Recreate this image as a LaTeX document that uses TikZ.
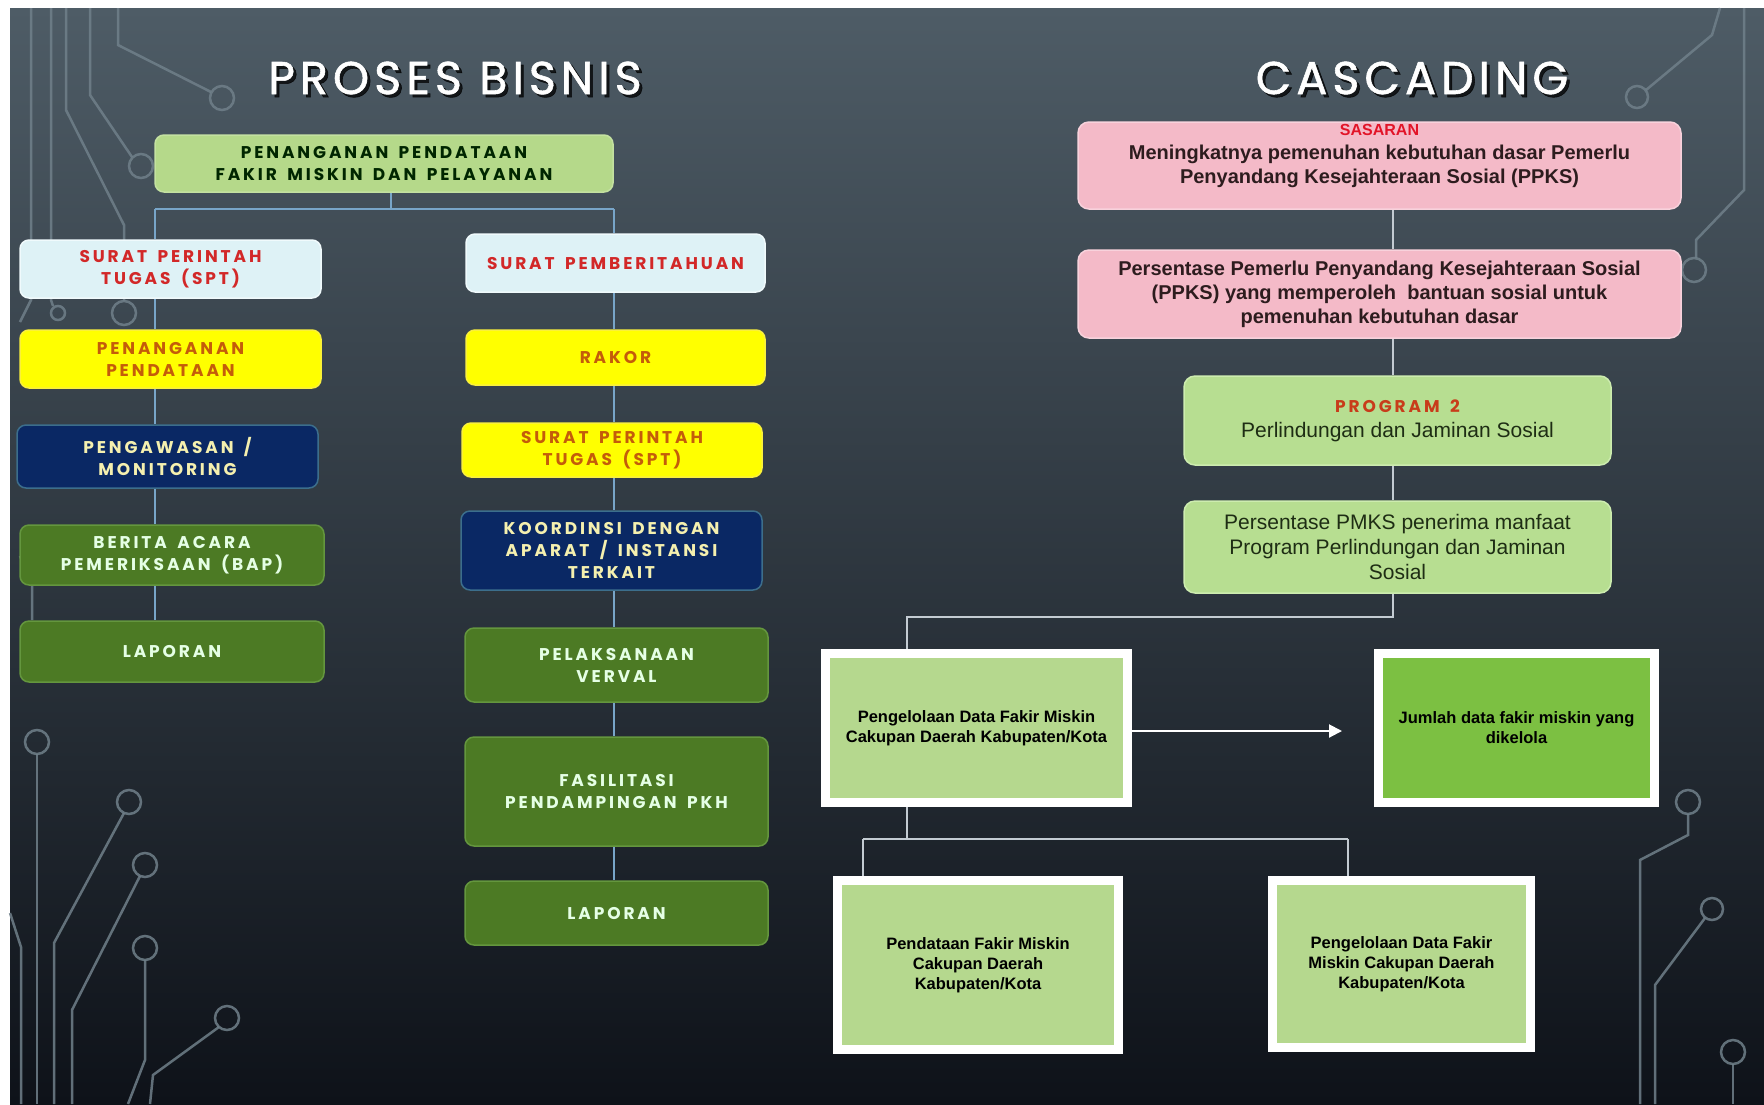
\documentclass[tikz,border=0pt]{standalone}
\usepackage{fontspec}
\setmainfont{Liberation Sans}
\newfontfamily\pop{Poppins}[LetterSpace=11,FakeBold=1.2]
\newfontfamily\popw{Poppins}[LetterSpace=17,WordSpace=1.6]
\usetikzlibrary{arrows.meta}
\definecolor{bgtop}{RGB}{78,92,102}
\definecolor{bgmid}{RGB}{40,48,58}
\definecolor{bgbot}{RGB}{14,18,25}
\definecolor{lline}{RGB}{120,165,200}
\definecolor{rline}{RGB}{195,203,210}
\definecolor{decoc}{RGB}{112,128,138}
\definecolor{topf}{RGB}{181,217,138}
\definecolor{cyanf}{RGB}{222,242,246}
\definecolor{cyand}{RGB}{240,250,252}
\definecolor{redt}{RGB}{210,40,40}
\definecolor{yel}{RGB}{255,255,0}
\definecolor{yeld}{RGB}{250,240,60}
\definecolor{oranget}{RGB}{196,92,10}
\definecolor{navy}{RGB}{10,40,100}
\definecolor{navyd}{RGB}{60,110,140}
\definecolor{navyt}{RGB}{245,240,175}
\definecolor{dgreen}{RGB}{76,122,36}
\definecolor{dgreend}{RGB}{100,150,62}
\definecolor{pinkf}{RGB}{244,186,200}
\definecolor{pinkd}{RGB}{248,210,220}
\definecolor{pinkt}{RGB}{45,28,30}
\definecolor{sasred}{RGB}{226,20,40}
\definecolor{progf}{RGB}{183,222,145}
\definecolor{progd}{RGB}{205,236,175}
\definecolor{progt}{RGB}{30,45,20}
\definecolor{progred}{RGB}{200,60,26}
\definecolor{bgreen}{RGB}{181,216,142}
\definecolor{jmlf}{RGB}{124,192,66}
\pgfdeclarelayer{bg}
\pgfdeclarelayer{lines}
\pgfsetlayers{bg,lines,main}
\begin{document}
\begin{tikzpicture}[x=1pt,y=-1pt,
 lconn/.style={draw=lline, line width=2pt},
 rconn/.style={draw=rline, line width=2pt},
 deco/.style={draw=decoc, line width=2.5pt, opacity=0.85},
 pb/.style={rounded corners=9pt, align=center, inner sep=3pt, line width=1.5pt, font=\popw\bfseries\fontsize{17}{22}\selectfont},
 topb/.style={pb, fill=topf, draw=topf!80!white, text=black!85!green},
 cyanb/.style={pb, fill=cyanf, draw=cyand, text=redt},
 yelb/.style={pb, fill=yel, draw=yeld, text=oranget},
 navyb/.style={pb, fill=navy, draw=navyd, text=navyt},
 grnb/.style={pb, fill=dgreen, draw=dgreend, text=white!90!green},
 pinkb/.style={rounded corners=11pt, fill=pinkf, draw=pinkd, line width=1.5pt, align=center, text=pinkt, font=\bfseries\fontsize{20}{24}\selectfont},
 progb/.style={rounded corners=11pt, fill=progf, draw=progd, line width=1.5pt, align=center, text=progt, font=\fontsize{21}{25}\selectfont},
 wbox/.style={draw=white, line width=9pt, fill=bgreen, align=center, text=black, font=\bfseries\fontsize{16.5}{20}\selectfont},
 ttl/.style={font=\pop\fontsize{46}{50}\selectfont, text=white},
 ttlsh/.style={font=\pop\fontsize{46}{50}\selectfont, text=black, opacity=0.75},
]
\useasboundingbox (0,0) rectangle (1764,1104);
\begin{pgfonlayer}{bg}
\fill[white] (0,0) rectangle (1764,1104);
\shade[top color=bgtop, middle color=bgmid, bottom color=bgbot] (10,8) rectangle (1764,1104);
% left top decorations
\draw[deco] (31,8) -- (31,300) -- (20,322);
\draw[deco] (51,8) -- (51,300) -- (53,306);
\draw[deco] (58,313) circle (7);
\draw[deco] (66,8) -- (66,110) -- (124,225) -- (124,301);
\draw[deco] (124,313) circle (12);
\draw[deco] (90,8) -- (90,95) -- (132,157);
\draw[deco] (141,166) circle (12);
\draw[deco] (118,8) -- (118,45) -- (211,92);
\draw[deco] (222,98) circle (12);
\draw[deco] (20,556) -- (32,585) -- (32,620);
% left bottom decorations
\draw[deco] (37,742) circle (12);
\draw[deco] (37,754) -- (37,1104);
\draw[deco] (129,802) circle (12);
\draw[deco] (124,813) -- (54,943) -- (54,1104);
\draw[deco] (145,865) circle (12);
\draw[deco] (140,876) -- (72,1010) -- (72,1104);
\draw[deco] (145,948) circle (12);
\draw[deco] (145,960) -- (145,1060) -- (128,1104);
\draw[deco] (227,1018) circle (12);
\draw[deco] (219,1027) -- (153,1075) -- (150,1104);
\draw[deco] (10,913) -- (21,947) -- (21,1104);
% right decorations
\draw[deco] (1720,8) -- (1712,35) -- (1646,90);
\draw[deco] (1637,97) circle (11);
\draw[deco] (1744,8) -- (1744,190) -- (1696,240) -- (1696,258);
\draw[deco] (1694,270) circle (12);
\draw[deco] (1688,802) circle (12);
\draw[deco] (1688,814) -- (1688,835) -- (1640,860) -- (1640,1104);
\draw[deco] (1712,909) circle (11);
\draw[deco] (1705,918) -- (1655,985) -- (1655,1104);
\draw[deco] (1733,1052) circle (12);
\draw[deco] (1733,1064) -- (1733,1104);
\end{pgfonlayer}

% titles
\node[ttlsh] (t1s) at (458,81) {PROSES BISNIS};
\node[ttl] (t1) at (455,78) {PROSES BISNIS};
\node[ttlsh] (t2s) at (1415,81) {CASCADING};
\node[ttl] (t2) at (1412,78) {CASCADING};

% left chart
\node[topb, minimum width=458pt, minimum height=57pt] (top) at (384,163.5) {PENANGANAN PENDATAAN\\FAKIR MISKIN DAN PELAYANAN};
\node[cyanb, minimum width=301pt, minimum height=58pt] (spt1) at (170.5,269) {SURAT PERINTAH\\TUGAS (SPT)};
\node[cyanb, minimum width=299pt, minimum height=58pt] (spm) at (615.5,263) {SURAT PEMBERITAHUAN};
\node[yelb, minimum width=301pt, minimum height=58pt] (pp) at (170.5,359) {PENANGANAN\\PENDATAAN};
\node[navyb, minimum width=301pt, minimum height=63pt] (pm) at (167.5,456.5) {PENGAWASAN /\\MONITORING};
\node[grnb, minimum width=304pt, minimum height=60pt] (bap) at (172,555) {BERITA ACARA\\PEMERIKSAAN (BAP)};
\node[grnb, minimum width=304pt, minimum height=61pt] (lap1) at (172,651.5) {LAPORAN};
\node[yelb, minimum width=299pt, minimum height=55pt] (rakor) at (615.5,357.5) {RAKOR};
\node[yelb, minimum width=300pt, minimum height=54pt] (spt2) at (612,450) {SURAT PERINTAH\\TUGAS (SPT)};
\node[navyb, minimum width=301pt, minimum height=79pt] (koord) at (611.5,550.5) {KOORDINSI DENGAN\\APARAT / INSTANSI\\TERKAIT};
\node[grnb, minimum width=303pt, minimum height=74pt] (verval) at (616.5,665) {PELAKSANAAN\\VERVAL};
\node[grnb, minimum width=303pt, minimum height=109pt] (fasil) at (616.5,791.5) {FASILITASI\\PENDAMPINGAN PKH};
\node[grnb, minimum width=303pt, minimum height=64pt] (lap2) at (616.5,913) {LAPORAN};

\coordinate (lx) at (155,209);
\coordinate (rx) at (614,209);
\coordinate (tx) at (391,209);
\begin{pgfonlayer}{lines}
\draw[lconn] (top.south -| tx) -- (tx);
\draw[lconn] (lx) -- (rx);
\draw[lconn] (lx) -- (lx |- spt1.north);
\draw[lconn] (rx) -- (rx |- spm.north);
\draw[lconn] (spt1.south -| lx) -- (pp.north -| lx);
\draw[lconn] (pp.south -| lx) -- (pm.north -| lx);
\draw[lconn] (pm.south -| lx) -- (bap.north -| lx);
\draw[lconn] (bap.south -| lx) -- (lap1.north -| lx);
\draw[lconn] (spm.south -| rx) -- (rakor.north -| rx);
\draw[lconn] (rakor.south -| rx) -- (spt2.north -| rx);
\draw[lconn] (spt2.south -| rx) -- (koord.north -| rx);
\draw[lconn] (koord.south -| rx) -- (verval.north -| rx);
\draw[lconn] (verval.south -| rx) -- (fasil.north -| rx);
\draw[lconn] (fasil.south -| rx) -- (lap2.north -| rx);
\end{pgfonlayer}

% right chart
\node[pinkb, minimum width=603pt, minimum height=87pt] (sas) at (1379.5,165.5) {};
\node[pinkb, draw=none, fill=none, inner sep=0pt] (sastext) at ([yshift=9pt]sas.center) {{\color{sasred}\fontsize{16}{20}\selectfont SASARAN}\\Meningkatnya pemenuhan kebutuhan dasar Pemerlu\\Penyandang Kesejahteraan Sosial (PPKS)};
\node[pinkb, minimum width=603pt, minimum height=88pt] (pct) at (1379.5,294) {Persentase Pemerlu Penyandang Kesejahteraan Sosial\\(PPKS) yang memperoleh\ \ bantuan sosial untuk\\pemenuhan kebutuhan dasar};
\node[progb, minimum width=427pt, minimum height=89pt] (prog) at (1397.5,420.5) {{\color{progred}\popw\bfseries\fontsize{17}{22}\selectfont PROGRAM 2}\\Perlindungan dan Jaminan Sosial};
\node[progb, minimum width=427pt, minimum height=92pt] (pmks) at (1397.5,547) {Persentase PMKS penerima manfaat\\Program Perlindungan dan Jaminan\\Sosial};

\node[wbox, minimum width=302pt, minimum height=149pt] (pdfm) at (976.5,728) {Pengelolaan Data Fakir Miskin\\Cakupan Daerah Kabupaten/Kota};
\node[wbox, fill=jmlf, minimum width=276pt, minimum height=149pt] (jml) at (1516.5,728) {Jumlah data fakir miskin yang\\dikelola};
\node[wbox, minimum width=281pt, minimum height=169pt] (pfm) at (978,965) {Pendataan Fakir Miskin\\Cakupan Daerah\\Kabupaten/Kota};
\node[wbox, minimum width=258pt, minimum height=167pt] (pdfm2) at (1401.5,964) {Pengelolaan Data Fakir\\Miskin Cakupan Daerah\\Kabupaten/Kota};

\coordinate (cx) at (1393,0);
\coordinate (j1) at (1393,617);
\coordinate (j1b) at (907,617);
\coordinate (j2) at (907,839);
\coordinate (j2l) at (863,839);
\coordinate (j2r) at (1348,839);
\coordinate (aend) at (1342,731);
\begin{pgfonlayer}{lines}
\draw[rconn] (sas.south -| cx) -- (pct.north -| cx);
\draw[rconn] (pct.south -| cx) -- (prog.north -| cx);
\draw[rconn] (prog.south -| cx) -- (pmks.north -| cx);
\draw[rconn] (pmks.south -| cx) -- (j1) -- (j1b) -- (j1b |- pdfm.north);
\draw[rconn] (pdfm.south -| j2) -- (j2);
\draw[rconn] (j2l) -- (j2r);
\draw[rconn] (j2l) -- (j2l |- pfm.north);
\draw[rconn] (j2r) -- (j2r |- pdfm2.north);
\end{pgfonlayer}
\draw[white, line width=2pt, -{Triangle[length=13pt,width=13pt]}] (pdfm.east |- aend) -- (aend);
\end{tikzpicture}
\end{document}
